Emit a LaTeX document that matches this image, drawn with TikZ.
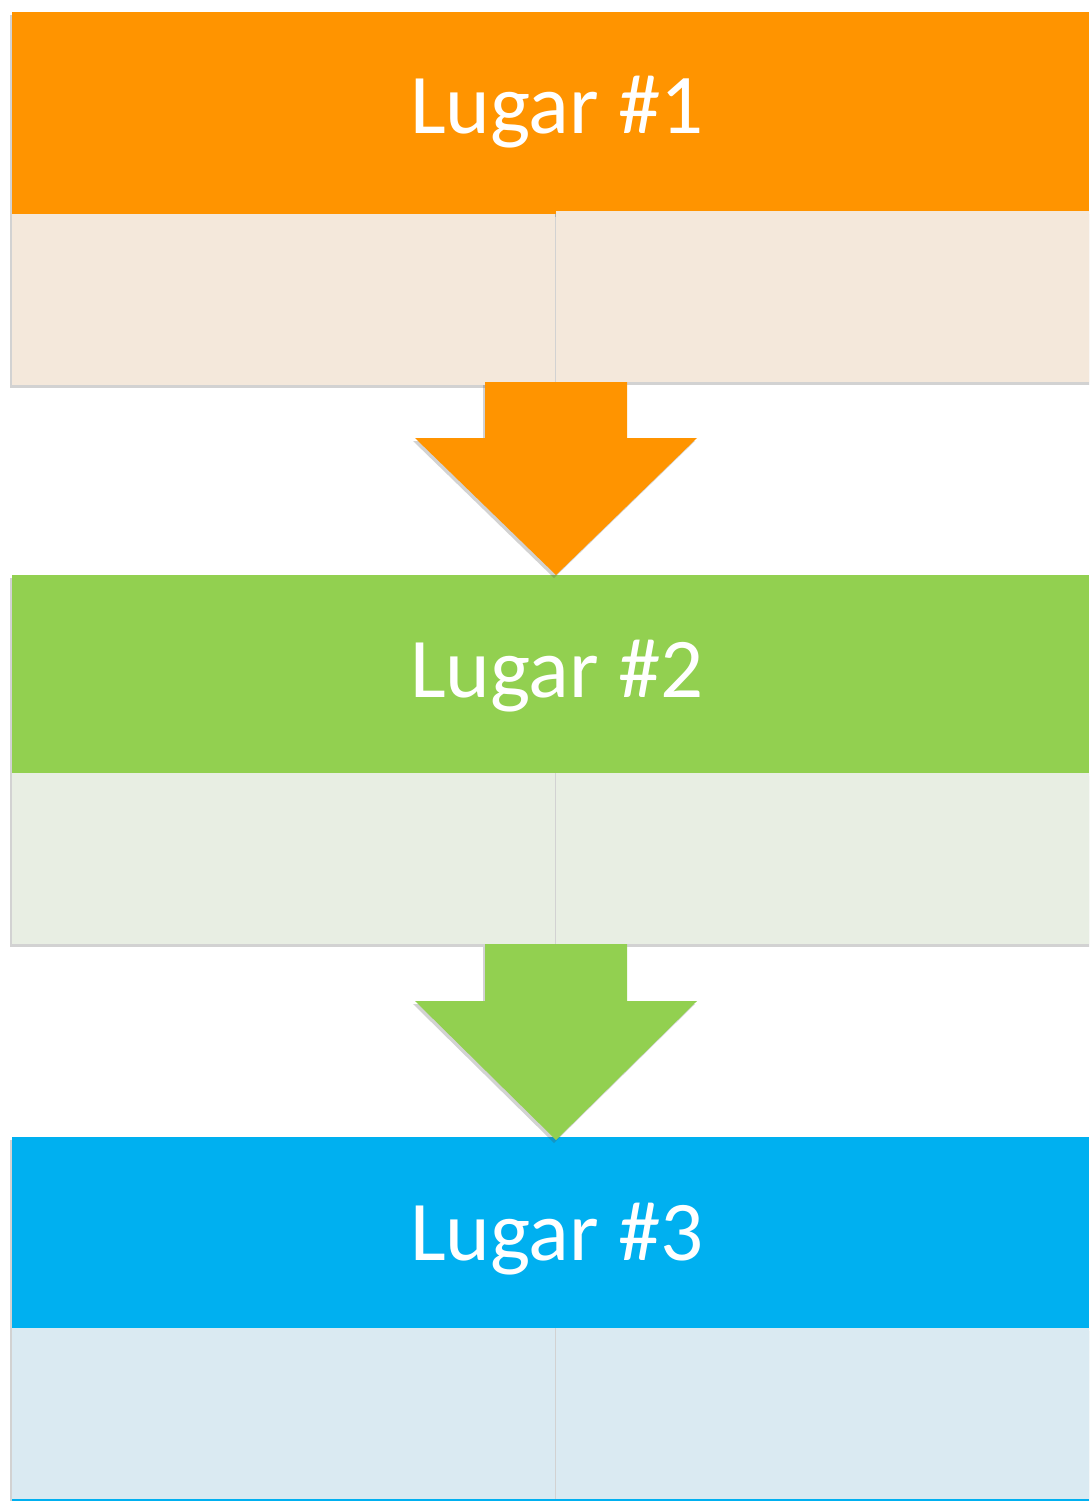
\documentclass[tikz,border=0pt]{standalone}
\usepackage{fontspec}
\setmainfont{Carlito}
\usetikzlibrary{calc,shadows}

\definecolor{lugarorange}{HTML}{FF9400}
\definecolor{lugarpeach}{HTML}{F4E8DB}
\definecolor{lugargreen}{HTML}{92D050}
\definecolor{lugarmint}{HTML}{E8EEE3}
\definecolor{lugarblue}{HTML}{00B0F0}
\definecolor{lugarsky}{HTML}{DAEAF2}

\begin{document}
\begin{tikzpicture}[
  x=1pt, y=-1pt,
  every node/.style={inner sep=0pt, outer sep=0pt},
  softshadow/.style={drop shadow={shadow xshift=-2pt, shadow yshift=-3pt, opacity=.25, fill=black!70}},
  band/.style={fill=#1, anchor=north west, minimum width=1077pt, minimum height=202pt, softshadow},
  cell/.style={fill=#1, anchor=north west, minimum width=543pt, minimum height=171pt, softshadow},
  lugar/.style={text=white, anchor=base, font=\fontsize{85}{85}\selectfont},
  flow/.style={fill=#1, softshadow}
]
\useasboundingbox (0,0) rectangle (1089,1501);
\begin{scope}
\clip (0,0) rectangle (1089,1501);

% place 1
\node[band=lugarorange] (b1) at (12,12) {};
\node[cell=lugarpeach, minimum width=540pt] (c1b) at (556,211) {};
\node[cell=lugarpeach] (c1a) at (12,214) {};
\node[lugar] (t1) at (557,134) {Lugar \#1};

% place 2
\node[band=lugargreen, minimum height=198pt] (b2) at (12,575) {};
\node[cell=lugarmint, minimum width=540pt] (c2b) at (556,773) {};
\node[cell=lugarmint] (c2a) at (12,773) {};
\node[lugar] (t2) at (557,697) {Lugar \#2};

% place 3
\node[band=lugarblue, minimum height=191pt] (b3) at (12,1137) {};
\node[cell=lugarsky, minimum width=540pt] (c3b) at (556,1328) {};
\node[cell=lugarsky] (c3a) at (12,1328) {};
\node[lugar] (t3) at (557,1260) {Lugar \#3};
\fill[lugarblue] (12,1499) rectangle (1089,1501);

% arrows
\fill[flow=lugarorange] ($(c1b.south west)+(-71,0)$) -- ($(c1b.south west)+(71,0)$)
  -- ($(c1b.south west)+(71,56)$) -- ($(c1b.south west)+(141,56)$)
  -- (b2.north -| c1b.south west) -- ($(c1b.south west)+(-141,56)$)
  -- ($(c1b.south west)+(-71,56)$) -- cycle;
\fill[flow=lugargreen] ($(c2b.south west)+(-71,0)$) -- ($(c2b.south west)+(71,0)$)
  -- ($(c2b.south west)+(71,57)$) -- ($(c2b.south west)+(141,57)$)
  -- ($(b3.north -| c2b.south west)+(0,3)$) -- ($(c2b.south west)+(-141,57)$)
  -- ($(c2b.south west)+(-71,57)$) -- cycle;
\end{scope}
\end{tikzpicture}
\end{document}
